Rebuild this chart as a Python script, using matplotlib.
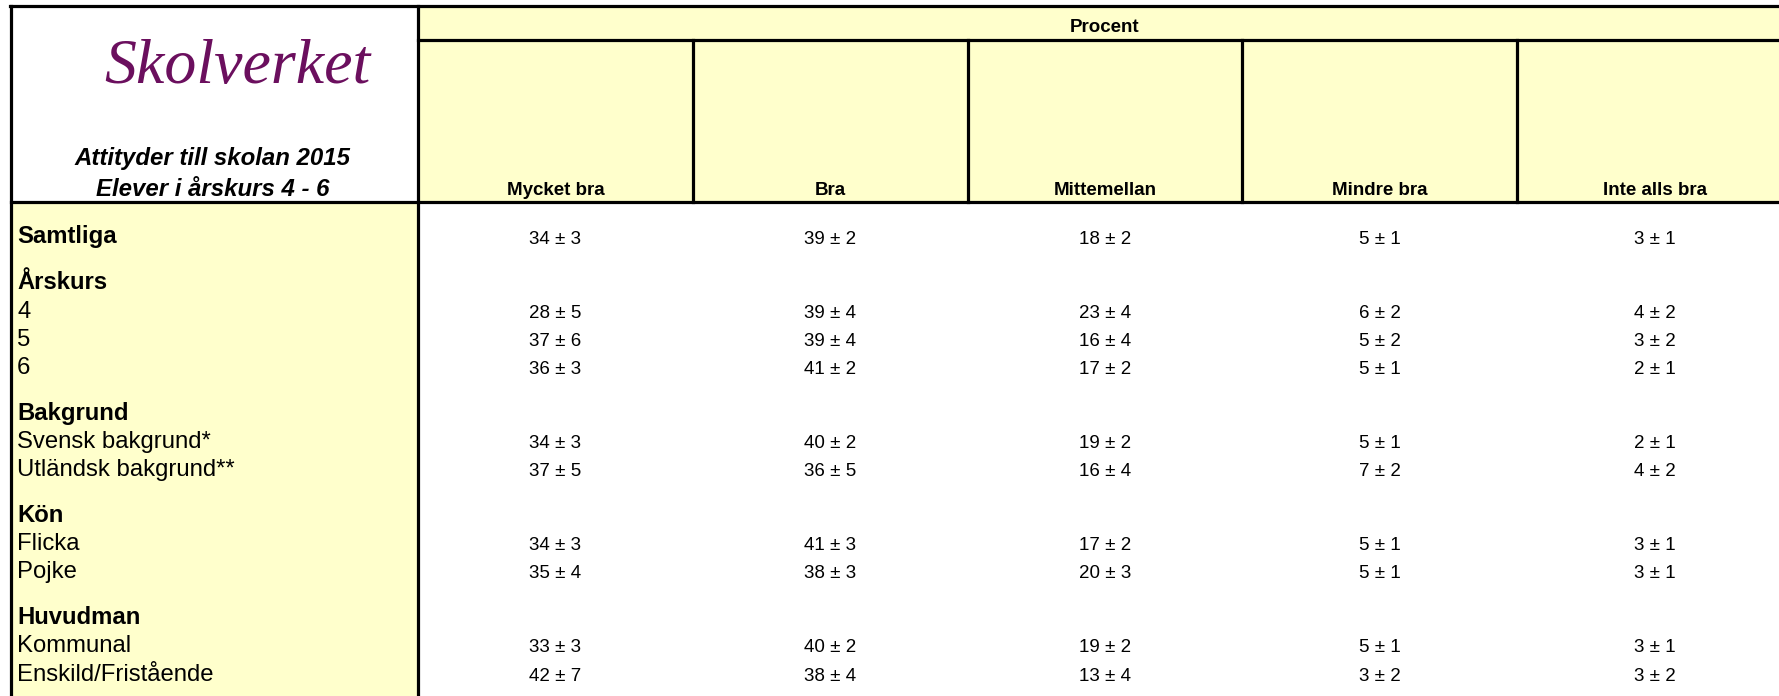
import matplotlib
matplotlib.use("Agg")
import matplotlib.pyplot as plt
from matplotlib.patches import Rectangle

# Table content
title_lines = ["Attityder till skolan 2015", "Elever i årskurs 4 - 6"]
span_header = "Procent"
col_headers = ["Mycket bra", "Bra", "Mittemellan", "Mindre bra", "Inte alls bra"]

row_labels = ["Samtliga", "Årskurs", "4", "5", "6",
              "Bakgrund", "Svensk bakgrund*", "Utländsk bakgrund**",
              "Kön", "Flicka", "Pojke",
              "Huvudman", "Kommunal", "Enskild/Fristående"]
row_is_heading = [True, True, False, False, False,
                  True, False, False,
                  True, False, False,
                  True, False, False]

mycket_bra = [34, None, 28, 37, 36, None, 34, 37, None, 34, 35, None, 33, 42]
mycket_bra_err = [3, None, 5, 6, 3, None, 3, 5, None, 3, 4, None, 3, 7]
bra = [39, None, 39, 39, 41, None, 40, 36, None, 41, 38, None, 40, 38]
bra_err = [2, None, 4, 4, 2, None, 2, 5, None, 3, 3, None, 2, 4]
mittemellan = [18, None, 23, 16, 17, None, 19, 16, None, 17, 20, None, 19, 13]
mittemellan_err = [2, None, 4, 4, 2, None, 2, 4, None, 2, 3, None, 2, 4]
mindre_bra = [5, None, 6, 5, 5, None, 5, 7, None, 5, 5, None, 5, 3]
mindre_bra_err = [1, None, 2, 2, 1, None, 1, 2, None, 1, 1, None, 1, 2]
inte_alls_bra = [3, None, 4, 3, 2, None, 2, 4, None, 3, 3, None, 3, 3]
inte_alls_bra_err = [1, None, 2, 2, 1, None, 1, 2, None, 1, 1, None, 1, 2]

columns = [(mycket_bra, mycket_bra_err), (bra, bra_err),
           (mittemellan, mittemellan_err), (mindre_bra, mindre_bra_err),
           (inte_alls_bra, inte_alls_bra_err)]

# Layout (pixel space, y down)
W, H = 1779, 696
YELLOW = "#FFFFCC"
FONT = "Liberation Sans"
left_x, left_w = 11, 407
col_w = 274.8
top_y, span_y, head_y = 6, 40, 202
row_step, group_gap = 28.2, 17.6
first_baseline = 243.5

fig = plt.figure(figsize=(W / 100, H / 100), dpi=100)
ax = fig.add_axes([0, 0, 1, 1])
ax.set_xlim(0, W)
ax.set_ylim(H, 0)
ax.axis("off")

x0 = left_x + left_w
table_right = x0 + col_w * len(col_headers)

# backgrounds
ax.add_patch(Rectangle((x0, top_y), table_right - x0, head_y - top_y, color=YELLOW, lw=0))
ax.add_patch(Rectangle((left_x, head_y), left_w, H - head_y, color=YELLOW, lw=0))

# borders
lw = 2.3
ax.plot([left_x - 1, table_right], [top_y, top_y], color="black", lw=lw)
ax.plot([left_x, left_x], [top_y, H], color="black", lw=lw)
ax.plot([x0, x0], [top_y, H], color="black", lw=lw)
ax.plot([x0, table_right], [span_y, span_y], color="black", lw=lw)
ax.plot([left_x, table_right], [head_y, head_y], color="black", lw=lw)
for i in range(1, len(col_headers)):
    xc = x0 + col_w * i
    ax.plot([xc, xc], [span_y, head_y], color="black", lw=lw)

# logo + title
ax.text(237, 83, "Skolverket", fontsize=46, family="Liberation Serif", style="italic",
        color="#6B0F5E", ha="center", va="baseline")
ax.text(213, 165, title_lines[0], fontsize=17.3, family=FONT, weight="bold", style="italic",
        ha="center", va="baseline")
ax.text(213, 196, title_lines[1], fontsize=17.3, family=FONT, weight="bold", style="italic",
        ha="center", va="baseline")

# headers
ax.text((x0 + table_right) / 2, 32.5, span_header, fontsize=13.5, family=FONT, weight="bold",
        ha="center", va="baseline")
for i, name in enumerate(col_headers):
    ax.text(x0 + col_w * (i + 0.5), 195, name, fontsize=13.5, family=FONT, weight="bold",
            ha="center", va="baseline")

# rows
y = first_baseline
for r, label in enumerate(row_labels):
    if r > 0 and row_is_heading[r]:
        y += row_step + group_gap
    elif r > 0:
        y += row_step
    ax.text(17, y, label, fontsize=17.2, family=FONT,
            weight="bold" if row_is_heading[r] else "normal", ha="left", va="baseline")
    for i, (vals, errs) in enumerate(columns):
        if vals[r] is None:
            continue
        ax.text(x0 + col_w * (i + 0.5), y, f"{vals[r]} ± {errs[r]}", fontsize=13.5,
                family=FONT, ha="center", va="baseline")

fig.savefig("out.png", dpi=100, facecolor="white")
